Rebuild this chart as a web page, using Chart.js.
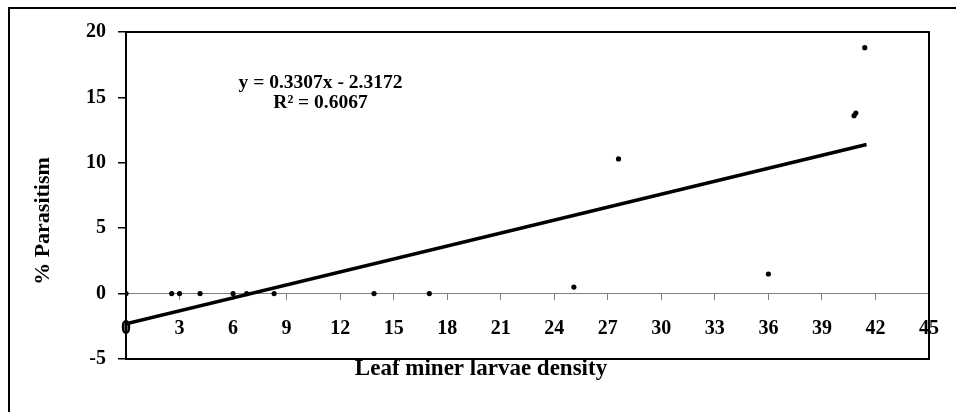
<!DOCTYPE html>
<html>
<head>
<meta charset="utf-8">
<script src="https://cdn.jsdelivr.net/npm/chart.js@4.4.0/dist/chart.umd.min.js"></script>
<style>
html, body { margin: 0; padding: 0; background: #fff; overflow: hidden; }
#frame { position: absolute; left: 8px; top: 7px; width: 1000px; height: 500px; border: 2px solid #000; }
#wrap { position: absolute; left: 0; top: 0; width: 956px; height: 412px; }
</style>
</head>
<body>
<div id="frame"></div>
<div id="wrap"><canvas id="myChart" width="956" height="412"></canvas></div>
<script>
// observed points
let density    = [0, 2.56, 3.0, 4.15, 6.0, 6.76, 8.3, 13.9, 17.0, 25.1, 27.6, 36.0, 40.8, 40.9, 41.4];
let parasitism = [0, 0,    0,   0,    0,   0,    0,   0,    0,    0.5,  10.3, 1.5,  13.6, 13.8, 18.8];

// linear trend line end points
let trendX = [0, 41.5];
let trendY = [-2.3, 11.4];

let eqText = ["y = 0.3307x - 2.3172", "R\u00b2 = 0.6067"];
let xTitle = "Leaf miner larvae density";
let yTitle = "% Parasitism";

let serif = "'Liberation Serif', 'Times New Roman', serif";

function toPoints(xs, ys)
{
    let pts = [];
    for (let i = 0; i < xs.length; i++) pts.push({x: xs[i], y: ys[i]});
    return pts;
}

// black frame round the plot area (top, right, bottom)
const frameBox = {
    id: 'frameBox',
    beforeDatasetsDraw(chart)
    {
        let a = chart.chartArea;
        let ctx = chart.ctx;
        ctx.save();
        ctx.strokeStyle = '#000';
        ctx.lineWidth = 2;
        ctx.strokeRect(a.left, a.top, a.right - a.left, a.bottom - a.top);
        ctx.restore();
    }
};

// equation and axis titles
const texts = {
    id: 'texts',
    afterDraw(chart)
    {
        let ctx = chart.ctx;
        let xs = chart.scales.x;
        let ys = chart.scales.y;
        ctx.save();
        ctx.fillStyle = '#000';
        ctx.textAlign = 'center';
        ctx.textBaseline = 'middle';

        ctx.font = "bold 19.5px " + serif;
        let ex = xs.getPixelForValue(10.9);
        ctx.fillText(eqText[0], ex, ys.getPixelForValue(16.1));
        ctx.fillText(eqText[1], ex, ys.getPixelForValue(14.55));

        ctx.font = "bold 23px " + serif;
        ctx.fillText(xTitle, 481, 369);

        ctx.translate(43, 221);
        ctx.rotate(-Math.PI / 2);
        ctx.font = "bold 22px " + serif;
        ctx.fillText(yTitle, 0, 0);
        ctx.restore();
    }
};

new Chart(document.getElementById('myChart'),
    {
        type: 'scatter',
        data:
        {
            datasets: [
                {
                    type: 'line',
                    data: toPoints(trendX, trendY),
                    borderColor: '#000',
                    borderWidth: 3.5,
                    pointRadius: 0,
                    fill: false
                },
                {
                    data: toPoints(density, parasitism),
                    backgroundColor: '#000',
                    borderColor: '#000',
                    pointRadius: 2.6,
                    borderWidth: 0
                }
            ]
        },
        options:
        {
            responsive: false,
            animation: false,
            layout: { padding: { left: 0, top: 32, right: 27, bottom: 53 } },
            plugins: {
                legend: { display: false },
                tooltip: { enabled: false }
            },
            scales: {
                x: {
                    type: 'linear',
                    min: 0,
                    max: 45,
                    position: { y: 0 },
                    ticks: {
                        stepSize: 3,
                        color: '#000',
                        padding: 17,
                        maxRotation: 0,
                        font: { family: serif, size: 20, weight: 'bold' }
                    },
                    grid: {
                        drawOnChartArea: false,
                        drawTicks: true,
                        tickLength: 6,
                        color: '#808080'
                    },
                    border: { color: '#808080', width: 1 }
                },
                y: {
                    type: 'linear',
                    min: -5,
                    max: 20,
                    position: 'left',
                    afterFit: function(scale) { scale.width = 126; },
                    ticks: {
                        stepSize: 5,
                        color: '#000',
                        padding: 12,
                        font: { family: serif, size: 20, weight: 'bold' }
                    },
                    grid: {
                        drawOnChartArea: false,
                        drawTicks: true,
                        tickLength: 8,
                        color: '#000',
                        lineWidth: 1.5
                    },
                    border: { color: '#000', width: 2 }
                }
            }
        },
        plugins: [frameBox, texts]
    }
);
</script>
</body>
</html>
